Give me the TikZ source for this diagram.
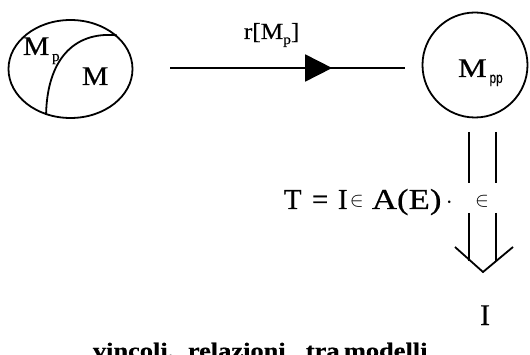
\documentclass[tikz,border=0pt]{standalone}
\usepackage{fontspec}
\setmainfont{Liberation Serif}[FakeBold=0.5]
\setsansfont{Liberation Sans}[FakeBold=0.5]
\usetikzlibrary{arrows.meta,decorations.markings,shapes.geometric}
\newcommand{\wide}[1]{\scalebox{1.1}[1]{#1}}
\begin{document}
\begin{tikzpicture}[x=1pt,y=-1pt,line width=1.8pt,
  txt/.style={inner sep=0pt,font=\fontsize{27}{29}\selectfont},
  eqtxt/.style={inner sep=0pt,anchor=base west,font=\fontsize{29}{31}\selectfont},
  sub/.style={inner sep=0pt,font=\fontsize{15}{16}\selectfont},
  lab/.style={inner sep=0pt,font=\fontsize{23}{25}\selectfont},
  captxt/.style={inner sep=0pt,font=\bfseries\fontsize{22}{24}\selectfont}]
\useasboundingbox (0,0) rectangle (530,355);
\fill[white] (0,0) rectangle (530,355);
% left ellipse
\node[draw,ellipse,minimum width=124pt,minimum height=98pt,inner sep=0pt] (L) at (70.5,69) {};
\draw (L.36) .. controls (72,31) and (47,62) .. (L.242);
\node[txt,anchor=base west] (Mp) at (22,55) {\wide{M}};
\node[sub,anchor=base west] (Mpsub) at ([xshift=1pt]Mp.base east) {\raisebox{-6pt}{p}};
\node[txt,anchor=base west] (M) at (81,85) {\wide{M}};
% right circle
\node[draw,circle,minimum size=105pt,inner sep=0pt] (R) at (475,65) {};
\node[txt,anchor=base west] (Mpp) at (457,77) {\scalebox{1.2}[1]{M}};
\node[sub,anchor=base west,font=\sffamily\fontsize{14}{15}\selectfont] (Mppsub) at ([xshift=1pt]Mpp.base east) {\raisebox{-6pt}{\scalebox{0.85}[1.1]{pp}}};
% horizontal arrow
\coordinate (h1) at (170,68);
\coordinate (h2) at (405,68);
\draw[decoration={markings,mark=at position 0.69 with {\arrow{Triangle[length=27pt,width=27pt]}}},postaction={decorate}] (h1) -- (h2);
\node[lab,anchor=base west] (r) at (243,39) {\wide{r[M\raisebox{-5pt}{\fontsize{14}{15}\selectfont p}]}};
% equation
\node[eqtxt] (eqT) at (283,209) {T};
\node[eqtxt] (eqEq) at (311,209) {=};
\node[eqtxt] (eqI) at (337,209) {I};
\node[eqtxt] (eqIn) at (349,207) {$\scriptstyle\in$};
\node[eqtxt] (eqA) at (371,209) {\scalebox{1.2}[1]{A(E)}};
\node[eqtxt] (eqDot) at (445,209) {$\cdot$};
\node[eqtxt,anchor=base] (in2) at (482,207) {$\scriptstyle\in$};
% double arrow
\coordinate (d1) at (469,132);
\coordinate (d2) at (469,183);
\coordinate (d3) at (469,213);
\coordinate (d4) at (469,261);
\coordinate (e1) at (496,132);
\coordinate (e2) at (496,183);
\coordinate (e3) at (496,213);
\coordinate (e4) at (496,261);
\draw (d1) -- (d2) (d3) -- (d4);
\draw (e1) -- (e2) (e3) -- (e4);
\coordinate (cL) at (455,247);
\coordinate (cT) at (483,272);
\coordinate (cR) at (513,247);
\draw[line join=miter] (cL) -- (cT) -- (cR);
\node[txt,anchor=base,font=\fontsize{30}{32}\selectfont] (I) at (485,325) {I};
% cut-off caption
\node[captxt,anchor=base west] (w1) at (92,358) {\scalebox{1.2}[1]{vincoli,}};
\node[captxt,anchor=base west] (w2) at (187,358) {\scalebox{1.2}[1]{relazioni}};
\node[captxt,anchor=base west] (w3) at (305,358) {\scalebox{1.2}[1]{tra}};
\node[captxt,anchor=base west] (w4) at (343,358) {\scalebox{1.2}[1]{modelli}};
\end{tikzpicture}
\end{document}
